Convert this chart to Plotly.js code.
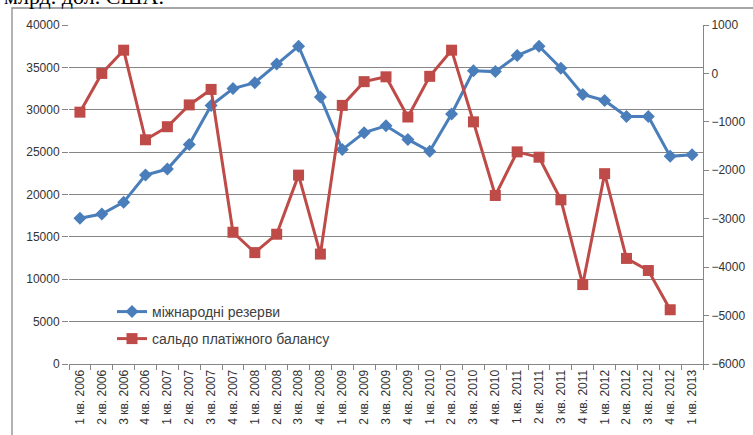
<!DOCTYPE html>
<html>
<head>
<meta charset="utf-8">
<script src="https://cdn.plot.ly/plotly-3.0.1.min.js"></script>
<style>html,body{margin:0;padding:0;background:#fff;}#chart{width:753px;height:435px;}</style>
</head>
<body>
<div id="chart"></div>
<script>
const quarters = [
  "1 кв. 2006","2 кв. 2006","3 кв. 2006","4 кв. 2006",
  "1 кв. 2007","2 кв. 2007","3 кв. 2007","4 кв. 2007",
  "1 кв. 2008","2 кв. 2008","3 кв. 2008","4 кв. 2008",
  "1 кв. 2009","2 кв. 2009","3 кв. 2009","4 кв. 2009",
  "1 кв. 2010","2 кв. 2010","3 кв. 2010","4 кв. 2010",
  "1 кв. 2011","2 кв. 2011","3 кв. 2011","4 кв. 2011",
  "1 кв. 2012","2 кв. 2012","3 кв. 2012","4 кв. 2012",
  "1 кв. 2013"
];
const reservesName = "міжнародні резерви";
const reserves = [
  17200, 17700, 19100, 22300,
  23000, 25900, 30500, 32500,
  33200, 35400, 37500, 31500,
  25300, 27300, 28100, 26500,
  25100, 29500, 34600, 34500,
  36400, 37500, 34900, 31800,
  31100, 29200, 29200, 24500,
  24700
];
const balanceName = "сальдо платіжного балансу";
const balance = [
  -800, 0, 480, -1370,
  -1100, -650, -330, -3280,
  -3700, -3320, -2100, -3730,
  -660, -170, -70, -900,
  -60, 480, -1000, -2520,
  -1620, -1730, -2610, -4360,
  -2070, -3820, -4070, -4880
];
const titleText = "млрд. дол. США.";

const L = 69, R = 50, T = 25, B = 71, W = 753, H = 435;
const pw = W - L - R, ph = H - T - B;
const px = x => (x - L) / pw;
const py = y => 1 - (y - T) / ph;

const blue = "#4A7EBB", red = "#BE4B48", grid = "#868686";
const tickFont = {family: "Liberation Sans, Arial, sans-serif", size: 12, color: "#333"};

const traces = [
  {
    x: quarters, y: reserves, name: reservesName, type: "scatter", mode: "lines+markers",
    line: {color: blue, width: 3}, marker: {symbol: "diamond", size: 10, color: blue},
    yaxis: "y", legend: "legend"
  },
  {
    x: quarters.slice(0, balance.length), y: balance, name: balanceName, type: "scatter", mode: "lines+markers",
    line: {color: red, width: 3}, marker: {symbol: "square", size: 11, color: red},
    yaxis: "y2", legend: "legend2"
  }
];

const legendFont = {family: "Liberation Sans, Arial, sans-serif", size: 14, color: "#404040"};

const layout = {
  width: W, height: H,
  margin: {l: L, r: R, t: T, b: B, pad: 0},
  paper_bgcolor: "#fff", plot_bgcolor: "#fff",
  showlegend: true,
  xaxis: {
    type: "category", categoryorder: "array", categoryarray: quarters,
    range: [-0.5, quarters.length - 0.5],
    tickangle: -90, ticks: "outside", tickson: "boundaries", ticklen: 5, tickcolor: grid,
    showline: true, linecolor: grid, linewidth: 1, showgrid: false, zeroline: false,
    tickfont: tickFont, automargin: false
  },
  yaxis: {
    range: [0, 40000], tick0: 0, dtick: 5000, tickformat: "d",
    showgrid: true, gridcolor: grid, gridwidth: 1,
    ticks: "outside", ticklen: 6, tickcolor: grid,
    showline: false, zeroline: false, tickfont: tickFont, automargin: false
  },
  yaxis2: {
    overlaying: "y", side: "right",
    range: [-6000, 1000], tick0: 0, dtick: 1000, tickformat: "d",
    showgrid: false, zeroline: false,
    showline: true, linecolor: grid, linewidth: 1,
    ticks: "outside", ticklen: 5, tickcolor: grid,
    tickfont: tickFont, automargin: false
  },
  legend: {
    x: px(112), y: py(296), xanchor: "left", yanchor: "top",
    bgcolor: "rgba(0,0,0,0)", borderwidth: 0, font: legendFont
  },
  legend2: {
    x: px(112), y: py(323), xanchor: "left", yanchor: "top",
    bgcolor: "rgba(0,0,0,0)", borderwidth: 0, font: legendFont
  },
  annotations: [{
    text: titleText, xref: "paper", yref: "paper",
    x: px(2), y: py(11), xanchor: "left", yanchor: "bottom",
    showarrow: false,
    font: {family: "Liberation Serif, Times New Roman, serif", size: 22, color: "#000"}
  }],
  shapes: [{
    type: "rect", xref: "paper", yref: "paper",
    x0: px(12), x1: px(W + 20), y0: py(H + 20), y1: py(8),
    line: {color: "#8a8a8a", width: 1.3}, fillcolor: "rgba(0,0,0,0)", layer: "below"
  }]
};

Plotly.newPlot("chart", traces, layout, {displayModeBar: false, staticPlot: true});
</script>
</body>
</html>
